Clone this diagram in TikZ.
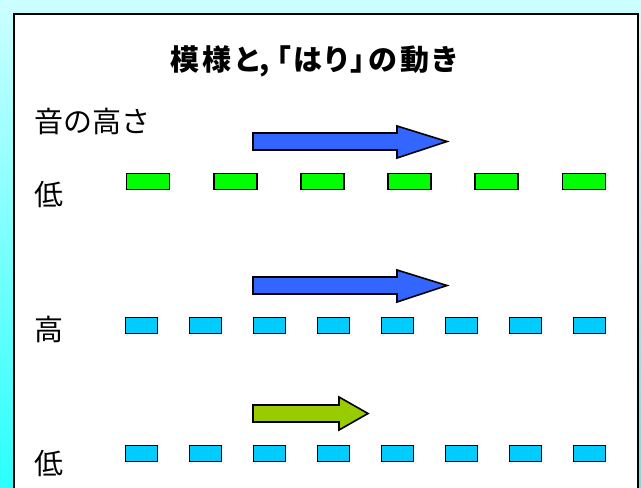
\documentclass[tikz,border=0pt]{standalone}
\usepackage{fontspec}
\newfontfamily\jp{Noto Sans CJK JP}
\newfontfamily\jpp[RawFeature=+palt]{Noto Sans CJK JP}
\definecolor{bgtop}{HTML}{CCFFFF}
\definecolor{bgbot}{HTML}{2AFFFF}
\definecolor{arrblue}{HTML}{3366FF}
\definecolor{arrgreen}{HTML}{99CC00}
\definecolor{dashgreen}{HTML}{00FF00}
\definecolor{dashblue}{HTML}{00CCFF}
\begin{document}
\begin{tikzpicture}[x=1pt,y=-1pt,
  lbl/.style={font=\jp\fontsize{29}{29}\selectfont, anchor=west, inner sep=0pt},
  gdash/.style={draw=black, line width=1.8pt, fill=dashgreen, minimum width=43pt, minimum height=16pt, inner sep=0pt},
  bdash/.style={draw=black, line width=1.8pt, fill=dashblue, minimum width=32pt, minimum height=16pt, inner sep=0pt},
  arrowshape/.style={draw=black, line width=1.6pt, line join=miter}]
\useasboundingbox (0,0) rectangle (641,488);
\shade[top color=bgtop, bottom color=bgbot] (0,0) rectangle (641,488);
\draw[line width=2pt, fill=white] (14,14) rectangle (638,500);
\node[font=\jpp\bfseries\fontsize{29}{29}\selectfont, inner sep=0pt] (title) at (314,61) {模\kern3pt 様\kern3pt と\kern1pt ,\kern6pt 「\kern3pt は\kern3pt り\kern3pt 」\kern3pt の\kern3pt 動\kern3pt き};
\node[lbl] (pitch) at (34,121) {音の高さ};
\node[lbl] (low1) at (34,195) {低};
\node[lbl] (high) at (34,329) {高};
\node[lbl] (low2) at (34,464) {低};
% arrows
\draw[arrowshape, fill=arrblue] (253,133) -- (397,133) -- (397,126) -- (447,141.5) -- (397,158) -- (397,150) -- (253,150) -- cycle;
\draw[arrowshape, fill=arrblue] (253,277) -- (397,277) -- (397,270) -- (447,285.5) -- (397,302) -- (397,294) -- (253,294) -- cycle;
\draw[arrowshape, fill=arrgreen] (253,405) -- (339,405) -- (339,397) -- (368,413.5) -- (339,430) -- (339,422) -- (253,422) -- cycle;
% dashes
\foreach \i in {0,...,5} {
  \node[gdash] (g\i) at ({148+87.2*\i},181.5) {};
}
\foreach \i in {0,...,7} {
  \node[bdash] (b\i) at ({141.5+64*\i},325.5) {};
  \node[bdash] (c\i) at ({141.5+64*\i},453.5) {};
}
\end{tikzpicture}
\end{document}
